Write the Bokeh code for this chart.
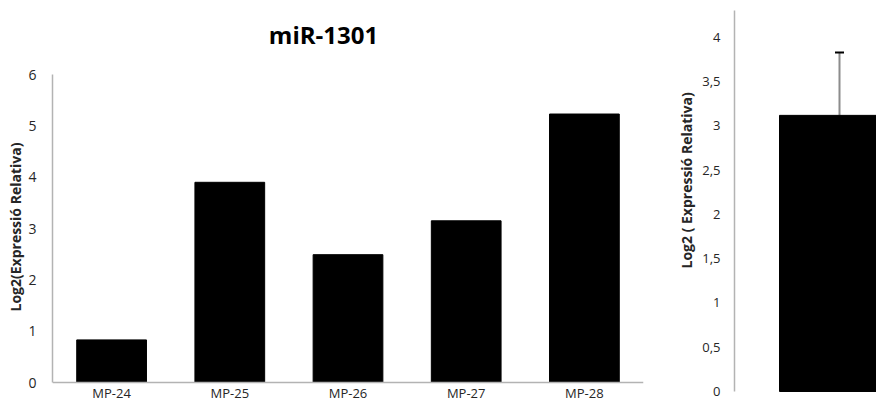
from bokeh.plotting import figure
from bokeh.layouts import row
from bokeh.models import (ColumnDataSource, FactorRange, Range1d, FixedTicker, Whisker,
                          TeeHead, Label, Title)
from bokeh.embed import file_html
from bokeh.resources import INLINE

# ---- data: left panel ----
samples = ["MP-24", "MP-25", "MP-26", "MP-27", "MP-28"]
expr = [0.83, 3.90, 2.49, 3.15, 5.23]
left_ticks = [0, 1, 2, 3, 4, 5, 6]
title_text = "miR-1301"
left_ylabel = "Log2(Expressió Relativa)"

# ---- data: right panel ----
group_pos = [1]
group_value = [3.12]
group_error = [0.71]
right_ticks = [0, 0.5, 1, 1.5, 2, 2.5, 3, 3.5, 4]
right_tick_labels = ["0", "0,5", "1", "1,5", "2", "2,5", "3", "3,5", "4"]
right_ylabel = "Log2 ( Expressió Relativa)"

FONT = "Open Sans"
AXIS_GRAY = "#b3b3b3"
TXT = "#262626"

# ---------------- left figure ----------------
p1 = figure(x_range=FactorRange(factors=samples), y_range=Range1d(-0.3896, 7.2468),
            width=670, height=402, output_backend="svg", toolbar_location=None,
            min_border_left=52, min_border_right=27, min_border_top=10, min_border_bottom=0)
p1.vbar(x=samples, top=expr, width=0.59, color="black")
p1.add_layout(Label(x=2.293, y=6.78, text=title_text, text_font=FONT, text_font_size="24px",
                    text_font_style="bold", text_color="black",
                    text_align="center", text_baseline="middle"))
p1.add_layout(Title(text=left_ylabel, align="left", offset=91, standoff=2,
                    text_font=FONT, text_font_size="14px", text_font_style="bold",
                    text_color=TXT), "left")

p1.xgrid.visible = False
p1.ygrid.visible = False
p1.outline_line_color = None

p1.yaxis.ticker = FixedTicker(ticks=left_ticks)
p1.yaxis.bounds = (0, 6)
p1.yaxis.major_label_standoff = 16
p1.yaxis.minor_tick_line_color = None

p1.xaxis.fixed_location = 0
p1.xaxis.major_label_standoff = 1

for ax in (p1.xaxis, p1.yaxis):
    ax.axis_line_color = AXIS_GRAY
    ax.axis_line_width = 1.5
    ax.major_tick_line_color = None
    ax.major_tick_in = 0
    ax.major_tick_out = 0
    ax.major_label_text_font = FONT
    ax.major_label_text_font_size = "14px"
    ax.major_label_text_color = TXT
p1.xaxis.major_label_text_font_size = "13px"

# ---------------- right figure ----------------
p2 = figure(x_range=Range1d(0.475, 1.185), y_range=Range1d(-0.1243, 4.305),
            width=206, height=402, output_backend="svg", toolbar_location=None,
            min_border_left=64, min_border_right=0, min_border_top=10, min_border_bottom=0)

src = ColumnDataSource(dict(
    x=group_pos,
    top=group_value,
    upper=[v + e for v, e in zip(group_value, group_error)],
))
p2.vbar(x="x", top="top", bottom=0, width=0.6, color="black", source=src)
p2.add_layout(Whisker(base="x", upper="upper", lower="top", source=src,
                      line_color="#8c8c8c", line_width=2,
                      upper_head=TeeHead(size=9, line_color="black", line_width=2),
                      lower_head=None))
p2.add_layout(Title(text=right_ylabel, align="left", offset=134, standoff=8,
                    text_font=FONT, text_font_size="14px", text_font_style="bold",
                    text_color=TXT), "left")

p2.xgrid.visible = False
p2.ygrid.visible = False
p2.outline_line_color = None
p2.xaxis.visible = False

ya = p2.yaxis
ya.ticker = FixedTicker(ticks=right_ticks)
ya.bounds = (0, 4.5)
ya.major_label_overrides = {t: s for t, s in zip(right_ticks, right_tick_labels)}
ya.major_label_standoff = 14
ya.axis_line_color = AXIS_GRAY
ya.axis_line_width = 1.5
ya.major_tick_line_color = None
ya.minor_tick_line_color = None
ya.major_tick_in = 0
ya.major_tick_out = 0
ya.major_label_text_font = FONT
ya.major_label_text_font_size = "13px"
ya.major_label_text_color = TXT

layout = row(p1, p2)
open("out.html", "w").write(file_html(layout, INLINE))
